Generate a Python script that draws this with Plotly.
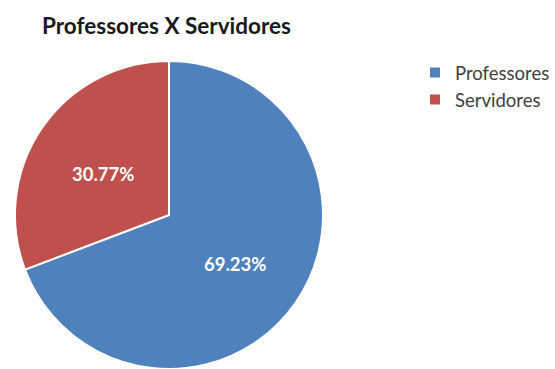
import math
import plotly.graph_objects as go

# Staff headcount split
categories = ["Professores", "Servidores"]
counts = [9, 4]
colors = ["#4F81BD", "#C0504D"]

W, H = 555, 369
cx, cy, r = 169, 215, 154  # pie centre and radius in pixels

total = sum(counts)
pct_text = [f"{100 * v / total:.2f}%" for v in counts]

fig = go.Figure(
    go.Pie(
        labels=categories,
        values=counts,
        sort=False,
        direction="clockwise",
        rotation=0,
        marker=dict(colors=colors, line=dict(color="white", width=2)),
        textinfo="none",
        hoverinfo="label+percent",
        domain=dict(x=[(cx - r) / W, (cx + r) / W], y=[max(0, (H - cy - r) / H), (H - cy + r) / H]),
    )
)

# Percentage labels placed along each slice's bisector
annotations = []
cum = 0
for v, txt in zip(counts, pct_text):
    theta = 2 * math.pi * (cum + v / 2) / total
    cum += v
    px = cx + 0.52 * r * math.sin(theta)
    py = cy - 0.52 * r * math.cos(theta) + 4
    annotations.append(
        dict(
            x=px / W, y=1 - py / H, xref="paper", yref="paper",
            xanchor="center", yanchor="middle",
            text=f"<b>{txt}</b>", showarrow=False,
            font=dict(family="Lato", size=18.5, color="white"),
        )
    )

fig.update_layout(
    width=W,
    height=H,
    margin=dict(l=0, r=0, t=0, b=0),
    paper_bgcolor="white",
    plot_bgcolor="white",
    title=dict(
        text="<b>Professores X Servidores</b>",
        x=42 / W, xanchor="left", y=1 - 26 / H, yanchor="middle",
        font=dict(family="Lato", size=22.5, color="#1a1a1a"),
    ),
    legend=dict(
        x=1, xanchor="right", y=1 - 54 / H, yanchor="top",
        font=dict(family="Lato", size=18.5, color="#404040"),
        itemwidth=30,
    ),
    annotations=annotations,
)

fig.write_html("out.html")
